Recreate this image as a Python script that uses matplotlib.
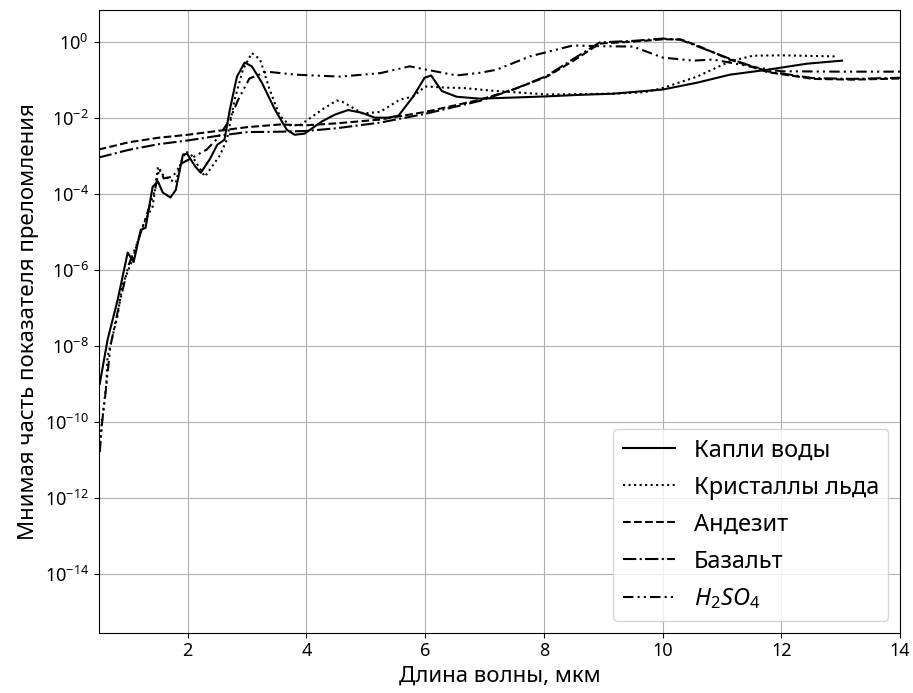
import numpy as np
import matplotlib
matplotlib.use("Agg")
import matplotlib.pyplot as plt
from matplotlib.ticker import LogFormatterSciNotation, NullLocator

plt.rcParams["font.family"] = ["Noto Sans", "DejaVu Sans"]
plt.rcParams["mathtext.fontset"] = "custom"
plt.rcParams["mathtext.rm"] = "Noto Sans"
plt.rcParams["mathtext.it"] = "Noto Sans:italic"

# wavelength (um) and log10 of imaginary refractive index
water_x = [0.52, 0.65, 0.82, 0.99, 1.09, 1.21, 1.29, 1.41, 1.50, 1.58, 1.71, 1.80,
           1.92, 1.99, 2.13, 2.22, 2.37, 2.50, 2.62, 2.71, 2.83, 2.96, 3.08, 3.25,
           3.47, 3.67, 3.80, 3.97, 4.26, 4.48, 4.70, 4.93, 5.15, 5.37, 5.55, 5.80,
           5.99, 6.10, 6.28, 6.53, 6.92, 7.50, 8.05, 8.60, 9.16, 10.0, 10.58, 11.13,
           11.76, 12.43, 13.02]
water_logk = [-9.0, -7.85, -6.8, -5.55, -5.8, -4.95, -4.9, -3.82, -3.68, -3.97, -4.1, -3.9,
              -2.97, -2.95, -3.29, -3.45, -3.1, -2.71, -2.58, -1.79, -0.92, -0.55, -0.65, -1.08,
              -1.79, -2.32, -2.45, -2.42, -2.1, -1.92, -1.8, -1.87, -2.0, -2.0, -1.95, -1.44,
              -0.95, -0.89, -1.3, -1.45, -1.5, -1.47, -1.44, -1.40, -1.37, -1.26, -1.08, -0.87,
              -0.74, -0.58, -0.5]

ice_x = [0.52, 0.55, 0.63, 0.65, 0.82, 0.90, 1.07, 1.17, 1.29, 1.41, 1.50, 1.58,
         1.67, 1.80, 1.88, 1.97, 2.07, 2.29, 2.54, 2.66, 2.79, 2.93, 3.08, 3.22,
         3.38, 3.55, 3.72, 3.89, 4.10, 4.30, 4.51, 4.60, 4.95, 5.24, 5.57, 5.80,
         6.00, 6.36, 6.64, 7.20, 8.05, 9.16, 9.70, 10.0, 10.58, 11.13, 11.52, 12.0,
         12.94]
ice_logk = [-10.7, -10.1, -9.0, -8.3, -7.2, -6.4, -5.74, -5.2, -4.68, -4.34, -3.29, -3.5,
            -3.6, -3.71, -3.2, -2.89, -3.0, -3.55, -3.0, -2.58, -1.53, -0.74, -0.3, -0.47,
            -1.26, -1.95, -2.2, -2.2, -1.97, -1.75, -1.55, -1.58, -1.89, -1.85, -1.53, -1.44,
            -1.18, -1.21, -1.22, -1.3, -1.39, -1.37, -1.33, -1.22, -0.92, -0.52, -0.37, -0.36,
            -0.39]

rock_x = [0.5, 1.0, 1.5, 2.0, 2.5, 3.0, 3.55, 4.0, 4.5, 5.24, 6.0, 6.92, 7.5,
          8.05, 8.5, 8.94, 9.5, 10.0, 10.3, 10.58, 11.13, 11.76, 12.53, 13.2, 14.0]
andesite_logk = [-2.84, -2.65, -2.53, -2.45, -2.35, -2.25, -2.18, -2.2, -2.15, -2.05, -1.85,
                 -1.53, -1.25, -0.92, -0.5, -0.05, 0.0, 0.06, 0.06, -0.1, -0.47, -0.8,
                 -0.98, -1.0, -0.97]
basalt_logk = [-3.05, -2.85, -2.7, -2.6, -2.48, -2.38, -2.37, -2.35, -2.28, -2.13, -1.9,
               -1.56, -1.25, -0.9, -0.45, -0.02, 0.02, 0.08, 0.05, -0.12, -0.45, -0.78,
               -0.96, -0.98, -0.95]

h2so4_x = [0.52, 0.56, 0.62, 0.70, 0.85, 1.0, 1.15, 1.3, 1.45, 1.52, 1.6, 1.75, 1.9,
           2.08, 2.32, 2.5, 2.71, 2.85, 3.04, 3.33, 3.83, 4.56, 5.24, 5.74, 6.03, 6.53,
           6.92, 7.2, 7.76, 8.49, 8.94, 9.5, 10.0, 10.52, 10.85, 11.5, 12.0, 13.0, 14.0]
h2so4_logk = [-10.8, -10.0, -9.2, -8.0, -6.9, -5.9, -5.3, -4.6, -3.9, -3.35, -3.6, -3.55, -3.2,
              -3.05, -2.84, -2.55, -2.05, -1.53, -0.97, -0.79, -0.87, -0.92, -0.83, -0.65, -0.74,
              -0.89, -0.82, -0.74, -0.39, -0.1, -0.12, -0.13, -0.42, -0.5, -0.47, -0.66,
              -0.78, -0.79, -0.79]

labels = ["Капли воды", "Кристаллы льда", "Андезит", "Базальт", r"$H_2SO_4$"]

fig = plt.figure(figsize=(9.13, 6.93), dpi=100)
ax = fig.add_axes([0.108, 0.087, 0.878, 0.899])

lw = 1.5
ax.plot(water_x, np.power(10.0, water_logk), color="black", lw=lw, ls="-", label=labels[0])
ax.plot(ice_x, np.power(10.0, ice_logk), color="black", lw=lw, ls=":", label=labels[1])
ax.plot(rock_x, np.power(10.0, andesite_logk), color="black", lw=lw, ls="--", label=labels[2])
ax.plot(rock_x, np.power(10.0, basalt_logk), color="black", lw=lw, ls="-.", label=labels[3])
ax.plot(h2so4_x, np.power(10.0, h2so4_logk), color="black", lw=lw,
        ls=(0, (5, 2, 1, 2, 1, 2)), label=labels[4])

ax.set_yscale("log")
ax.set_xlim(0.5, 14)
ax.set_ylim(10 ** -15.55, 10 ** 0.84)
ax.set_yticks([10.0 ** p for p in range(0, -15, -2)])
ax.yaxis.set_major_formatter(LogFormatterSciNotation())
ax.yaxis.set_minor_locator(NullLocator())
ax.set_xticks([2, 4, 6, 8, 10, 12, 14])
ax.tick_params(labelsize=13)

ax.grid(True, color="#b0b0b0", lw=0.8)
ax.set_xlabel("Длина волны, мкм", fontsize=16)
ax.set_ylabel("Мнимая часть показателя преломления", fontsize=16)

ax.legend(loc="lower right", fontsize=17, handlelength=2.2, labelspacing=0.55)

fig.savefig("out.png", dpi=100)
